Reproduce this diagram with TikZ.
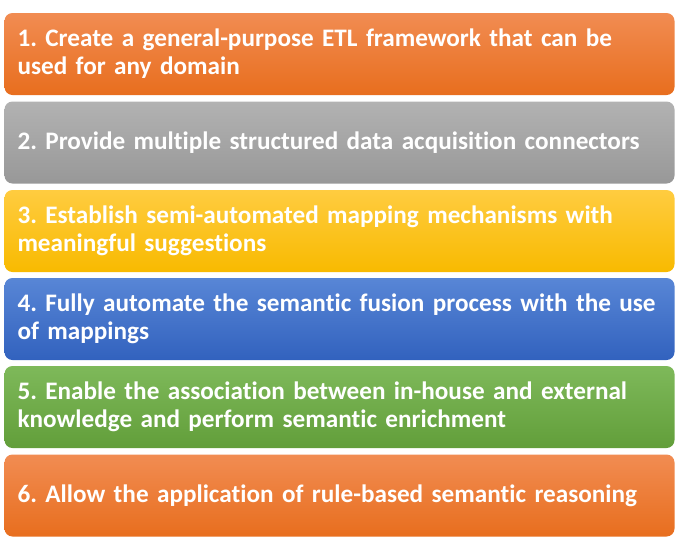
\documentclass[tikz,border=0pt]{standalone}
\usepackage{fontspec}
\setmainfont[Ligatures=NoCommon]{Carlito}

\definecolor{orangeT}{RGB}{241,140,82}
\definecolor{orangeB}{RGB}{232,110,30}
\definecolor{grayT}{RGB}{178,178,178}
\definecolor{grayB}{RGB}{152,152,152}
\definecolor{yellowT}{RGB}{255,204,64}
\definecolor{yellowB}{RGB}{248,186,0}
\definecolor{blueT}{RGB}{88,134,214}
\definecolor{blueB}{RGB}{50,98,190}
\definecolor{greenT}{RGB}{126,185,90}
\definecolor{greenB}{RGB}{98,158,58}

\tikzset{every picture/.style={line width=0.75pt}}
\tikzset{
  goalbox/.style n args={2}{rectangle, rounded corners=6pt, top color=#1, bottom color=#2,
    minimum width=502.5pt, minimum height=61.5pt, text width=483pt, inner xsep=9.75pt,
    align=left, text=white, font=\bfseries\frenchspacing\fontsize{18.9}{21}\selectfont}
}

\begin{document}
\begin{tikzpicture}[x=0.75pt,y=0.75pt,yscale=-1,xscale=1]
\useasboundingbox (0,0) rectangle (680,550);

% Goal 1
\draw (339.5,54) node [goalbox={orangeT}{orangeB}] (goalA) {1. Create a general-purpose ETL framework that can be\\used for any domain};
% Goal 2
\draw (339.5,142.5) node [goalbox={grayT}{grayB}] (goalB) {2. Provide multiple structured data acquisition connectors};
% Goal 3
\draw (339.5,231) node [goalbox={yellowT}{yellowB}] (goalC) {3. Establish semi-automated mapping mechanisms with\\meaningful suggestions};
% Goal 4
\draw (339.5,319) node [goalbox={blueT}{blueB}] (goalD) {4. Fully automate the semantic fusion process with the use\\of mappings};
% Goal 5
\draw (339.5,407) node [goalbox={greenT}{greenB}] (goalE) {5. Enable the association between in-house and external\\knowledge and perform semantic enrichment};
% Goal 6
\draw (339.5,495.5) node [goalbox={orangeT}{orangeB}] (goalF) {6. Allow the application of rule-based semantic reasoning};

\end{tikzpicture}
\end{document}
